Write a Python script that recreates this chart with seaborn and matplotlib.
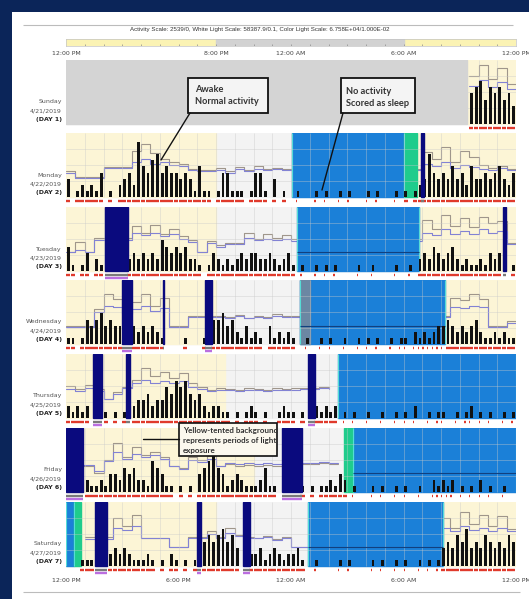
import numpy as np
import pandas as pd
import matplotlib
matplotlib.use("Agg")
import matplotlib.pyplot as plt
from matplotlib.patches import Rectangle
import seaborn as sns

N = None

day_names = ["Sunday", "Monday", "Tuesday", "Wednesday", "Thursday", "Friday", "Saturday"]
day_dates = ["4/21/2019", "4/22/2019", "4/23/2019", "4/24/2019", "4/25/2019", "4/26/2019", "4/27/2019"]
day_tags = ["(DAY 1)", "(DAY 2)", "(DAY 3)", "(DAY 4)", "(DAY 5)", "(DAY 6)", "(DAY 7)"]

top_ticks = [0, 8, 12, 18, 24]
top_labels = ["12:00 PM", "8:00 PM", "12:00 AM", "6:00 AM", "12:00 PM"]
bottom_ticks = [0, 6, 12, 18, 24]
bottom_labels = ["12:00 PM", "6:00 PM", "12:00 AM", "6:00 AM", "12:00 PM"]

scale_title = ("Activity Scale: 2539/0, White Light Scale: 58387.9/0.1, "
               "Color Light Scale: 6.758E+04/1.000E-02")

# hours after 12:00 PM
scale_light = [(0, 8), (18, 24)]
scale_dark = [(8, 18)]

# activity, 15 min bins, level 0-9
act1 = [0] * 84 + [0, 0, 5, 6, 7, 4, 6, 5, 6, 4, 5, 3]
act2 = [3, 0, 1, 2, 1, 2, 1, 4, 0, 1, 0, 2, 3, 4, 2, 9, 5, 4, 6, 7, 4, 5, 4, 4,
        3, 4, 3, 1, 5, 1, 1, 0, 1, 4, 4, 1, 1, 1, 0, 1, 4, 4, 1, 0, 3, 0, 1, 0,
        0, 1, 0, 0, 0, 1, 0, 1, 0, 0, 1, 0, 1, 0, 0, 0, 1, 0, 1, 0, 0, 0, 1, 0,
        1, 0, 1, 2, 3, 7, 4, 3, 4, 3, 5, 3, 4, 2, 5, 3, 3, 4, 3, 4, 5, 3, 2, 4]
act3 = [4, 1, 0, 1, 3, 0, 2, 1, 0, 0, 0, 0, 0, 2, 3, 2, 3, 2, 3, 2, 5, 4, 3, 4,
        3, 4, 2, 2, 1, 0, 1, 3, 2, 1, 2, 1, 2, 3, 2, 3, 3, 2, 2, 3, 2, 1, 2, 3,
        1, 0, 1, 0, 0, 1, 0, 1, 0, 1, 0, 0, 0, 0, 1, 0, 0, 1, 0, 0, 0, 0, 1, 0,
        0, 1, 0, 2, 3, 2, 4, 3, 2, 3, 4, 2, 1, 2, 1, 1, 2, 1, 3, 2, 3, 2, 0, 1]
act4 = [1, 1, 0, 1, 4, 3, 4, 5, 3, 4, 3, 3, 2, 0, 3, 2, 3, 2, 3, 2, 1, 0, 0, 0,
        0, 1, 0, 0, 0, 1, 0, 4, 4, 5, 3, 4, 2, 1, 3, 1, 2, 1, 0, 3, 1, 2, 1, 2,
        1, 0, 0, 1, 0, 0, 1, 0, 1, 0, 0, 1, 0, 0, 1, 0, 1, 0, 1, 0, 0, 1, 0, 1,
        1, 0, 2, 1, 2, 1, 2, 3, 3, 4, 3, 2, 3, 2, 3, 4, 2, 1, 1, 2, 1, 2, 1, 1]
act5 = [2, 1, 2, 1, 2, 0, 0, 1, 1, 0, 1, 0, 1, 0, 2, 3, 3, 4, 2, 3, 3, 5, 4, 6,
        5, 6, 4, 3, 4, 2, 1, 2, 2, 1, 1, 0, 1, 0, 1, 2, 1, 0, 1, 0, 0, 1, 2, 1,
        1, 0, 1, 0, 0, 2, 1, 2, 1, 2, 0, 1, 0, 1, 0, 0, 1, 0, 0, 1, 0, 0, 1, 0,
        1, 0, 2, 0, 0, 1, 0, 1, 1, 0, 0, 1, 0, 1, 2, 0, 1, 0, 1, 0, 0, 1, 0, 1]
act6 = [0, 0, 0, 3, 2, 1, 1, 2, 1, 3, 3, 2, 4, 3, 4, 2, 2, 1, 5, 4, 3, 1, 1, 0,
        1, 0, 1, 0, 3, 4, 5, 7, 4, 3, 1, 2, 3, 2, 1, 1, 1, 2, 4, 1, 1, 0, 0, 0,
        0, 0, 1, 0, 1, 0, 1, 1, 2, 1, 3, 2, 0, 1, 0, 0, 0, 1, 0, 1, 0, 0, 1, 0,
        1, 0, 0, 1, 0, 0, 2, 1, 2, 1, 2, 0, 1, 0, 1, 0, 2, 0, 1, 0, 0, 1, 0, 0]
act7 = [0, 0, 0, 1, 1, 1, 0, 0, 0, 2, 3, 2, 3, 2, 1, 1, 1, 2, 1, 0, 1, 0, 2, 1,
        0, 1, 0, 1, 0, 4, 5, 4, 5, 6, 4, 5, 3, 0, 2, 2, 2, 3, 1, 2, 3, 2, 1, 2,
        2, 3, 1, 0, 0, 1, 0, 0, 0, 0, 1, 0, 1, 0, 0, 0, 0, 1, 0, 1, 0, 0, 1, 0,
        1, 0, 0, 1, 0, 1, 0, 1, 3, 4, 3, 5, 4, 6, 3, 4, 3, 5, 4, 3, 4, 3, 5, 4]

# white light and blue light traces, 30 min bins, % of row height
white1 = [N] * 43 + [75, 92, 70, 88, 62]
blue1 = [N] * 43 + [60, 68, 58, 65, 55]
white2 = [40, 31, 31, 31, 46, 46, 47, 72, 82, 68, 60, 55, 52, 44, 42, 42, 45, 40, 46, 42, 48, 44, 45, 44,
          *[N] * 14, 70, 60, 78, 55, 72, 62, 50, 45, 48, 44]
blue2 = [38, 30, 30, 30, 45, 45, 45, 55, 60, 52, 55, 50, 48, 42, 41, 41, 42, 38, 43, 40, 44, 42, 43, 42,
         *[N] * 14, 52, 48, 55, 45, 50, 47, 44, 42, 45, 42]
white3 = [30, 45, 30, 51, 51, 51, 51, 70, 60, 72, 58, 66, 55, 48, 30, 46, 40, 44, 44, 60, 50, 58, 52, 56, 50,
          *[N] * 13, 80, 65, 88, 70, 82, 68, 85, 75, 78, 43]
blue3 = [30, 33, 30, 48, 48, 48, 48, 60, 56, 60, 54, 58, 50, 45, 30, 44, 38, 42, 42, 52, 48, 50, 48, 50, 46,
         *[N] * 13, 60, 56, 65, 58, 62, 58, 66, 60, 62, 42]
white4 = [28, 28, 28, 55, 78, 70, 48, 65, 78, 60, 72, 28, 28, 43, 43, 43, 44, 42, 45, 41, 44, 42, 46, 43, 44,
          *[N] * 16, 72, 68, 78, 70, 28, 28, 35]
blue4 = [27, 27, 27, 50, 60, 58, 46, 55, 60, 52, 56, 27, 27, 42, 42, 42, 42, 41, 43, 40, 42, 41, 44, 42, 42,
         *[N] * 16, 58, 56, 60, 57, 27, 27, 33]
white5 = [50, 45, 52, 45, 30, 40, 48, 60, 78, 65, 72, 62, 70, 55, 48, 44, 46, 45, 44, 46, 45, 44, 46, 45,
          46, 47, 47, 48, 47, *[N] * 19]
blue5 = [45, 42, 47, 42, 29, 38, 46, 54, 60, 55, 58, 54, 57, 48, 45, 42, 44, 43, 42, 44, 43, 42, 44, 43,
         44, 45, 45, 46, 45, *[N] * 19]
white6 = [40, 40, 40, 30, 50, 76, 55, 70, 58, 62, 55, 40, 37, 55, 50, 56, 40, 44, 40, 42, 40, 42, 41, 41,
          41, 44, 44, 45, 44, 44, *[N] * 18]
blue6 = [42, 42, 42, 32, 48, 62, 52, 60, 54, 58, 52, 40, 36, 50, 47, 52, 40, 45, 44, 45, 44, 45, 44, 44,
         44, 45, 45, 46, 45, 45, *[N] * 18]
white7 = [N, N, 45, 45, 45, 75, 62, 80, 43, 44, 43, 29, 29, 45, 45, 55, 45, 60, 48, 45, 44, 46, 42, 45,
          29, 29, *[N] * 14, 75, 60, 85, 65, 80, 62, 78, 58]
blue7 = [N, N, 42, 42, 42, 60, 56, 62, 43, 43, 43, 29, 29, 44, 44, 50, 44, 52, 46, 44, 43, 45, 41, 44,
         29, 29, *[N] * 14, 60, 55, 62, 56, 60, 55, 60, 54]

activity = [act1, act2, act3, act4, act5, act6, act7]
white_light = [white1, white2, white3, white4, white5, white6, white7]
blue_light = [blue1, blue2, blue3, blue4, blue5, blue6, blue7]

# intervals (start hour, end hour)
no_data = [[(0, 21.4)], [], [], [], [], [], []]
lit = [[(21.4, 24)], [(0, 8), (18.7, 24)], [(0, 8), (18.8, 24)], [(0, 8), (20.2, 24)],
       [(0, 8.5)], [(0, 10)], [(0, 8), (20.1, 24)]]
rest = [[], [(12.05, 18.0)], [(12.3, 18.8)], [(12.5, 20.2)], [(14.5, 24)], [(15.3, 24)],
        [(0, 0.43), (12.9, 20.1)]]
wake_edge = [[], [(18.0, 18.7)], [], [], [], [(14.8, 15.3)], [(0.43, 0.8)]]
excluded = [[], [], [], [(12.5, 13.0)], [], [], []]
off_wrist = [[], [(18.95, 19.08)], [(2.1, 3.3), (23.3, 23.45)],
             [(3.0, 3.5), (5.15, 5.25), (7.4, 7.8)],
             [(1.45, 1.9), (3.2, 3.4), (12.9, 13.3)], [(0, 0.9), (11.5, 12.6)],
             [(1.55, 2.2), (7.0, 7.2), (9.45, 9.8)]]
rest_level = [N, N, 30, 28, N, 30, 29]

row_tops = [60, 133, 207, 280, 354, 428, 502]

W, H = 529, 599
NAVY_BG = "#0b2559"
LIT_BG = "#fcf5d6"
DARK_BG = "#f3f3f3"
REST = "#1b80d8"
GREEN = "#1fcc8c"
OFF = "#0a0a7e"
RED = "#e03a2c"
GRID = "#c9c9c9"

sns.set_style("white")
plt.rcParams["font.family"] = ["DejaVu Sans"]


def px_rect(x0, y0, w, h):
    return [x0 / W, 1 - (y0 + h) / H, w / W, h / H]


def inside(t, spans):
    return any(s <= t < e for s, e in spans)


fig = plt.figure(figsize=(W / 100, H / 100), dpi=100)
fig.patch.set_facecolor(NAVY_BG)
fig.add_artist(Rectangle((12 / W, 0), 1, 1 - 12 / H, transform=fig.transFigure,
                         facecolor="white", edgecolor="none", zorder=-5))

# top scale bar
sax = fig.add_axes(px_rect(66, 39, 450, 7))
sax.set_xlim(0, 24)
sax.set_ylim(0, 1)
for s, e in scale_light:
    sax.add_patch(Rectangle((s, 0), e - s, 1, color="#fbf3b4", zorder=0))
for s, e in scale_dark:
    sax.add_patch(Rectangle((s, 0), e - s, 1, color="#d2d2d2", zorder=0))
sax.vlines(np.arange(1, 24), 0, 0.3, color="#8a8a8a", lw=0.5)
for sp in sax.spines.values():
    sp.set_color("#c4c4c4")
    sp.set_linewidth(0.5)
sax.set_yticks([])
sax.set_xticks(top_ticks, top_labels)
sax.tick_params(axis="x", length=0, pad=3.5, labelsize=4.5, colors="#444444")

hx = np.arange(96) * 0.25
lx = np.append(np.arange(48) * 0.5, 24)

for i in range(7):
    ax = fig.add_axes(px_rect(66, row_tops[i], 450, 74))
    ax.set_xlim(0, 24)
    ax.set_ylim(-16, 100)
    ax.set_facecolor("none")
    for sp in ax.spines.values():
        sp.set_visible(False)
    ax.set_yticks([])
    ax.set_xticks([])

    ax.add_patch(Rectangle((0, 0), 24, 100, color=DARK_BG, zorder=0))
    for s, e in lit[i]:
        ax.add_patch(Rectangle((s, 0), e - s, 100, color=LIT_BG, zorder=0.5))

    w = np.array(white_light[i], dtype=float)
    b = np.array(blue_light[i], dtype=float)
    df = pd.DataFrame({"t": lx, "white": np.append(w, w[-1]), "blue": np.append(b, b[-1])})
    sns.lineplot(data=df, x="t", y="white", ax=ax, color="#9f968b", lw=0.8,
                 drawstyle="steps-post", estimator=None, zorder=2)
    sns.lineplot(data=df, x="t", y="blue", ax=ax, color="#8282d4", lw=0.8,
                 drawstyle="steps-post", estimator=None, zorder=2.1)
    ax.set_xlabel("")
    ax.set_ylabel("")

    for s, e in rest[i]:
        ax.add_patch(Rectangle((s, 0), e - s, 100, color=REST, zorder=3))
        ax.vlines([s, e], 0, 100, color="#55dcd6", lw=0.8, zorder=3.1)
        if rest_level[i] is not None and e - s > 2:
            ax.hlines(rest_level[i], s, e, color="#12407e", lw=0.8, zorder=3.3)
    for s, e in wake_edge[i]:
        ax.add_patch(Rectangle((s, 0), e - s, 100, color=GREEN, zorder=3))
    for s, e in excluded[i]:
        ax.add_patch(Rectangle((s, 0), e - s, 100, color="#6b87a3", zorder=3.05))

    ax.vlines(np.arange(1, 24), 0, 100, color=GRID, lw=0.5, alpha=0.55, zorder=3.2)
    ax.hlines([25, 50, 75], 0, 24, color=GRID, lw=0.5, alpha=0.55, zorder=3.2)

    a = np.array(activity[i], dtype=float)
    ax.bar(hx + 0.125, a * 9.5, width=0.15, color="#111111", linewidth=0, zorder=4)

    # wake markers strip
    for j, v in enumerate(activity[i]):
        t = hx[j]
        if v <= 0 or inside(t + 0.1, off_wrist[i]) or inside(t + 0.1, no_data[i]):
            continue
        seg = 0.07 if inside(t + 0.1, rest[i]) else 0.22
        ax.hlines(-6, t, t + seg, color=RED, lw=1.7, zorder=4)

    for s, e in off_wrist[i]:
        ax.add_patch(Rectangle((s, 0), e - s, 100, color=OFF, zorder=5))
        ax.hlines(-6, s, e, color="#7a7a7a", lw=1.7, zorder=5)
        if e - s > 0.2:
            ax.hlines(-11, s, e, color="#bb6ee0", lw=1.7, zorder=5)

    for s, e in no_data[i]:
        ax.add_patch(Rectangle((s, 0), e - s, 100, color="#d4d4d4", zorder=6))

    if i == 6:
        ax.set_xticks(bottom_ticks, bottom_labels)
        ax.tick_params(axis="x", length=0, pad=1.5, labelsize=4.5, colors="#444444")

# overlay in pixel coordinates
ov = fig.add_axes([0, 0, 1, 1], zorder=20)
ov.set_xlim(0, W)
ov.set_ylim(H, 0)
ov.axis("off")

ov.hlines(25, 23, 513, color="#bcbcbc", lw=0.8)
ov.hlines(592, 23, 520, color="#bcbcbc", lw=0.8)
ov.text(260, 29.5, scale_title, ha="center", va="center", fontsize=4.4,
        family=["Liberation Sans", "DejaVu Sans"], color="#333333")

for i in range(7):
    bottom = row_tops[i] + 64
    ov.text(62, bottom - 22, day_names[i], ha="right", va="center", fontsize=4.5, color="#555555")
    ov.text(62, bottom - 13, day_dates[i], ha="right", va="center", fontsize=4.5, color="#555555")
    ov.text(62, bottom - 4.5, day_tags[i], ha="right", va="center", fontsize=4.5,
            color="#222222", fontweight="bold")

box_font = dict(family=["Lato", "DejaVu Sans"], fontweight="bold", color="#333333")

ov.plot([190, 161], [113, 160], color="#111111", lw=1)
ov.add_patch(Rectangle((188, 78), 80, 35, facecolor="#f4f4f4", edgecolor="#111111", lw=1.3))
ov.text(195, 89, "Awake", ha="left", va="center", fontsize=6.7, **box_font)
ov.text(195, 102, "Normal activity", ha="left", va="center", fontsize=6.7, **box_font)

ov.plot([343, 322], [113, 190], color="#111111", lw=1)
ov.add_patch(Rectangle((341, 78), 74, 35, facecolor="#f4f4f4", edgecolor="#111111", lw=1.3))
ov.text(346, 91, "No activity", ha="left", va="center", fontsize=6.7, **box_font)
ov.text(346, 103, "Scored as sleep", ha="left", va="center", fontsize=6.7, **box_font)

ov.plot([143, 179], [439, 439], color="#111111", lw=1)
ov.add_patch(Rectangle((179, 423), 98, 33, facecolor="#fbf8ee", edgecolor="#111111", lw=1.2))
ov.text(183, 430, "Yellow-tented background", ha="left", va="center", fontsize=5.8, **box_font)
ov.text(183, 440, "represents periods of light", ha="left", va="center", fontsize=5.8, **box_font)
ov.text(183, 450, "exposure", ha="left", va="center", fontsize=5.8, **box_font)

fig.savefig("out.png", dpi=100, facecolor=fig.get_facecolor())
